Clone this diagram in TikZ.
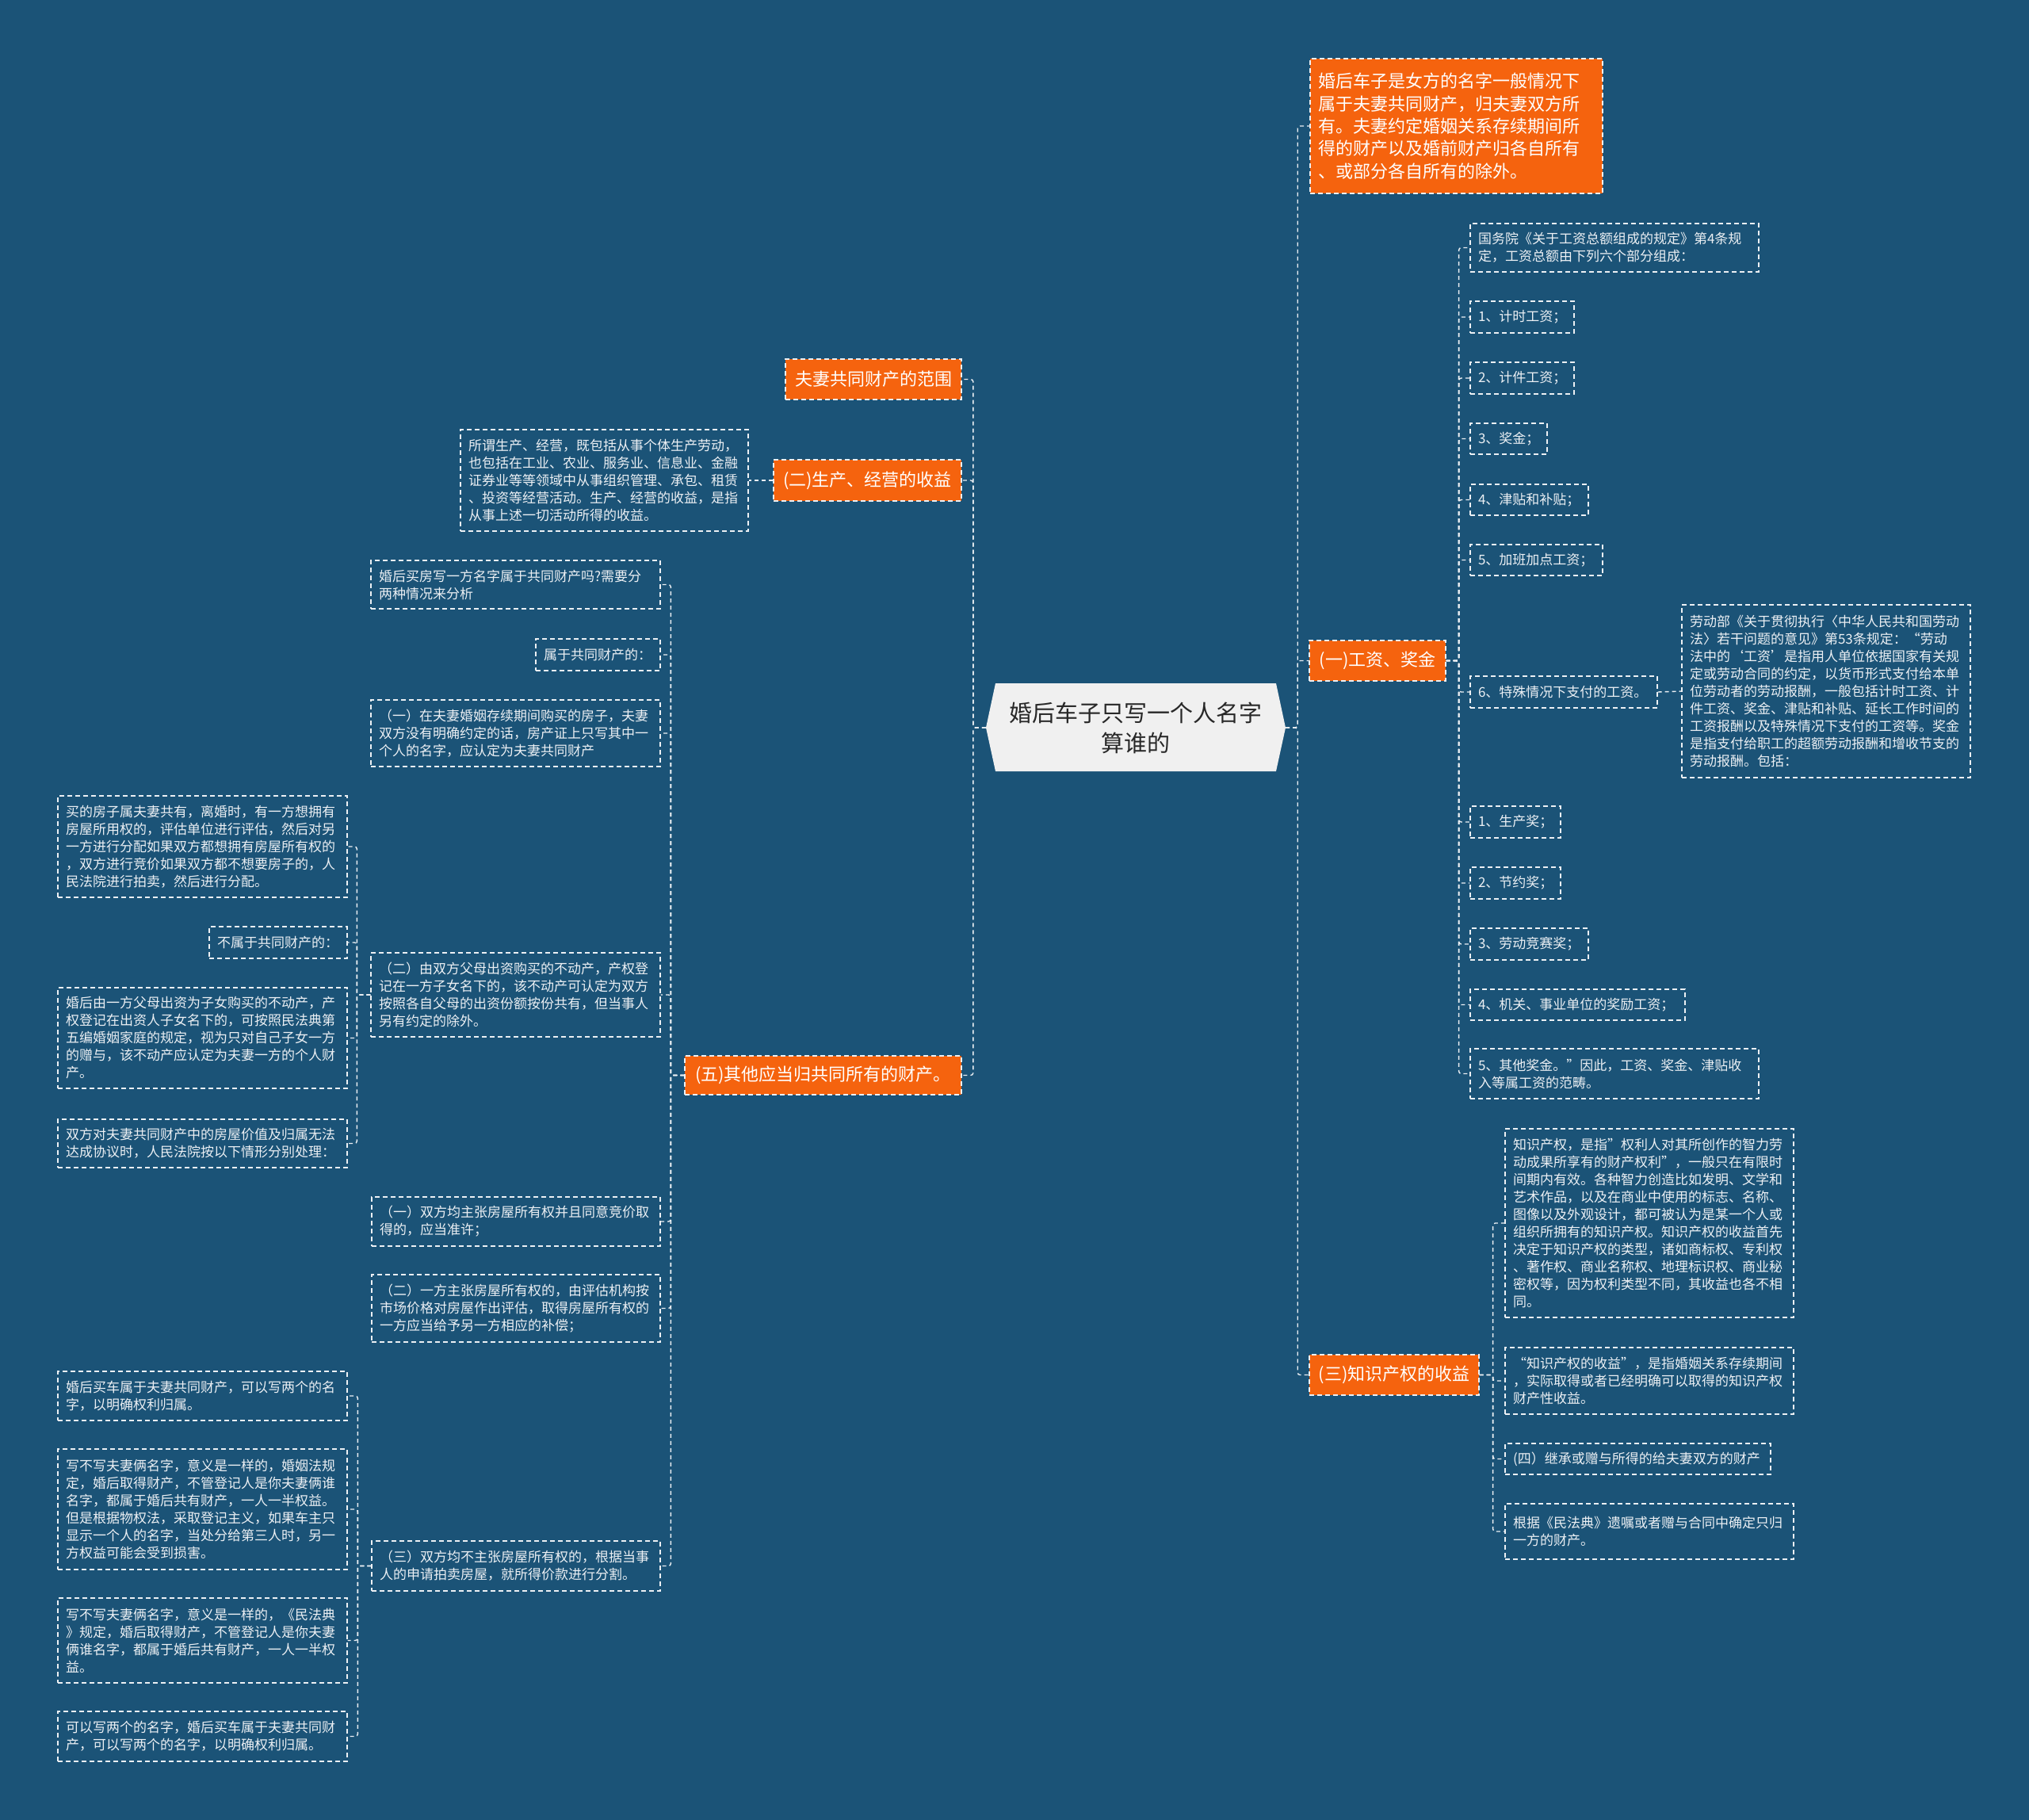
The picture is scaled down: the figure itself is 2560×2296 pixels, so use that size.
\documentclass[tikz,border=0pt]{standalone}
\usepackage{fontspec}
\setmainfont{Noto Sans CJK SC}
\definecolor{bgC}{RGB}{27,83,119}
\definecolor{orC}{RGB}{245,99,14}
\definecolor{lnC}{RGB}{236,240,244}
\definecolor{ctrC}{RGB}{240,240,240}
\definecolor{ctrT}{RGB}{40,40,40}
\newcommand\mkbox[7]{%
  \pgfmathsetmacro\bxw{#5-#3}%
  \pgfmathsetmacro\bxh{#6-#4}%
  \pgfmathsetmacro\bxt{#5-#3-20}%
  \pgfmathsetmacro\bxx{(#3+#5)/2}%
  \pgfmathsetmacro\bxy{(#4+#6)/2}%
  \node[#2, minimum width=\bxw pt, minimum height=\bxh pt, text width=\bxt pt] (#1) at (\bxx,\bxy) {#7};%
}
\begin{document}
\begin{tikzpicture}[x=1pt,y=-1pt,
  leaf/.style={draw=lnC, line width=1.3pt, dash pattern=on 6pt off 4pt, text=lnC,
    font=\fontsize{17}{22}\selectfont, align=left, inner xsep=0pt, inner ysep=0pt},
  orb/.style={fill=orC, draw=lnC, line width=1.3pt, dash pattern=on 6pt off 4pt, text=white,
    font=\fontsize{22}{28.3}\selectfont, align=center, inner xsep=0pt, inner ysep=0pt},
  conn/.style={draw=lnC, line width=1.4pt, dash pattern=on 5pt off 4pt, rounded corners=3pt}
]
\fill[bgC] (0,0) rectangle (2560,2296);
\useasboundingbox (0,0) rectangle (2560,2296);

% centre
\fill[ctrC] (1244,918) -- (1256,862) -- (1610,862) -- (1622,918) -- (1610,973) -- (1256,973) -- cycle;
\node[font=\fontsize{29}{38}\selectfont, text=ctrT, align=center, minimum width=378pt, minimum height=111pt, inner sep=0pt] (center) at (1433,918) {婚后车子只写一个人名字\\算谁的};

% right level 1
\mkbox{R0}{orb,align=left}{1653}{74}{2022}{244}{婚后车子是女方的名字一般情况下\\属于夫妻共同财产，归夫妻双方所\\有。夫妻约定婚姻关系存续期间所\\得的财产以及婚前财产归各自所有\\、或部分各自所有的除外。}
\mkbox{R1}{orb}{1652}{808}{1824}{859}{(一)工资、奖金}
\mkbox{R2}{orb}{1652}{1709}{1866}{1760}{(三)知识产权的收益}

% children of R1
\mkbox{A0}{leaf}{1855}{282}{2219}{343}{国务院《关于工资总额组成的规定》第4条规\\定，工资总额由下列六个部分组成：}
\mkbox{A1}{leaf}{1855}{380}{1986}{420}{1、计时工资；}
\mkbox{A2}{leaf}{1855}{457}{1986}{497}{2、计件工资；}
\mkbox{A3}{leaf}{1855}{534}{1952}{573}{3、奖金；}
\mkbox{A4}{leaf}{1855}{611}{2004}{650}{4、津贴和补贴；}
\mkbox{A5}{leaf}{1855}{687}{2022}{726}{5、加班加点工资；}
\mkbox{A6}{leaf}{1855}{853}{2091}{893}{6、特殊情况下支付的工资。}
\mkbox{A6a}{leaf}{2122}{763}{2486}{981}{劳动部《关于贯彻执行〈中华人民共和国劳动\\法〉若干问题的意见》第53条规定：“劳动\\法中的‘工资’是指用人单位依据国家有关规\\定或劳动合同的约定，以货币形式支付给本单\\位劳动者的劳动报酬，一般包括计时工资、计\\件工资、奖金、津贴和补贴、延长工作时间的\\工资报酬以及特殊情况下支付的工资等。奖金\\是指支付给职工的超额劳动报酬和增收节支的\\劳动报酬。包括：}
\mkbox{A7}{leaf}{1855}{1017}{1969}{1057}{1、生产奖；}
\mkbox{A8}{leaf}{1855}{1094}{1969}{1134}{2、节约奖；}
\mkbox{A9}{leaf}{1855}{1171}{2004}{1211}{3、劳动竞赛奖；}
\mkbox{A10}{leaf}{1855}{1248}{2126}{1287}{4、机关、事业单位的奖励工资；}
\mkbox{A11}{leaf}{1855}{1323}{2219}{1386}{5、其他奖金。”因此，工资、奖金、津贴收\\入等属工资的范畴。}

% children of R2
\mkbox{B0}{leaf}{1899}{1424}{2263}{1662}{知识产权，是指”权利人对其所创作的智力劳\\动成果所享有的财产权利”，一般只在有限时\\间期内有效。各种智力创造比如发明、文学和\\艺术作品，以及在商业中使用的标志、名称、\\图像以及外观设计，都可被认为是某一个人或\\组织所拥有的知识产权。知识产权的收益首先\\决定于知识产权的类型，诸如商标权、专利权\\、著作权、商业名称权、地理标识权、商业秘\\密权等，因为权利类型不同，其收益也各不相\\同。}
\mkbox{B1}{leaf}{1899}{1700}{2263}{1784}{“知识产权的收益”，是指婚姻关系存续期间\\，实际取得或者已经明确可以取得的知识产权\\财产性收益。}
\mkbox{B2}{leaf}{1899}{1821}{2234}{1860}{(四）继承或赠与所得的给夫妻双方的财产}
\mkbox{B3}{leaf}{1899}{1897}{2263}{1967}{根据《民法典》遗嘱或者赠与合同中确定只归\\一方的财产。}

% left level 1
\mkbox{L1}{orb}{991}{453}{1213}{504}{夫妻共同财产的范围}
\mkbox{L2}{orb}{976}{580}{1213}{632}{(二)生产、经营的收益}
\mkbox{L3}{orb}{864}{1332}{1213}{1381}{(五)其他应当归共同所有的财产。}
\mkbox{L2a}{leaf}{581}{542}{944}{670}{所谓生产、经营，既包括从事个体生产劳动，\\也包括在工业、农业、服务业、信息业、金融\\证券业等等领域中从事组织管理、承包、租赁\\、投资等经营活动。生产、经营的收益，是指\\从事上述一切活动所得的收益。}

% children of L3
\mkbox{M0}{leaf}{468}{707}{833}{768}{婚后买房写一方名字属于共同财产吗?需要分\\两种情况来分析}
\mkbox{M1}{leaf}{676}{806}{833}{846}{属于共同财产的：}
\mkbox{M2}{leaf}{468}{883}{833}{967}{（一）在夫妻婚姻存续期间购买的房子，夫妻\\双方没有明确约定的话，房产证上只写其中一\\个人的名字，应认定为夫妻共同财产}
\mkbox{M3}{leaf}{468}{1202}{833}{1308}{（二）由双方父母出资购买的不动产，产权登\\记在一方子女名下的，该不动产可认定为双方\\按照各自父母的出资份额按份共有，但当事人\\另有约定的除外。}
\mkbox{M4}{leaf}{469}{1510}{833}{1572}{（一）双方均主张房屋所有权并且同意竞价取\\得的，应当准许；}
\mkbox{M5}{leaf}{469}{1608}{833}{1693}{（二）一方主张房屋所有权的，由评估机构按\\市场价格对房屋作出评估，取得房屋所有权的\\一方应当给予另一方相应的补偿；}
\mkbox{M6}{leaf}{469}{1944}{833}{2007}{（三）双方均不主张房屋所有权的，根据当事\\人的申请拍卖房屋，就所得价款进行分割。}

% children of M3
\mkbox{N0}{leaf}{73}{1004}{438}{1132}{买的房子属夫妻共有，离婚时，有一方想拥有\\房屋所用权的，评估单位进行评估，然后对另\\一方进行分配如果双方都想拥有房屋所有权的\\，双方进行竞价如果双方都不想要房子的，人\\民法院进行拍卖，然后进行分配。}
\mkbox{N1}{leaf}{264}{1169}{438}{1209}{不属于共同财产的：}
\mkbox{N2}{leaf}{73}{1246}{438}{1373}{婚后由一方父母出资为子女购买的不动产，产\\权登记在出资人子女名下的，可按照民法典第\\五编婚姻家庭的规定，视为只对自己子女一方\\的赠与，该不动产应认定为夫妻一方的个人财\\产。}
\mkbox{N3}{leaf}{73}{1412}{438}{1473}{双方对夫妻共同财产中的房屋价值及归属无法\\达成协议时，人民法院按以下情形分别处理：}

% children of M6
\mkbox{P0}{leaf}{73}{1730}{438}{1792}{婚后买车属于夫妻共同财产，可以写两个的名\\字，以明确权利归属。}
\mkbox{P1}{leaf}{73}{1828}{438}{1980}{写不写夫妻俩名字，意义是一样的，婚姻法规\\定，婚后取得财产，不管登记人是你夫妻俩谁\\名字，都属于婚后共有财产，一人一半权益。\\但是根据物权法，采取登记主义，如果车主只\\显示一个人的名字，当处分给第三人时，另一\\方权益可能会受到损害。}
\mkbox{P2}{leaf}{73}{2016}{438}{2123}{写不写夫妻俩名字，意义是一样的，《民法典\\》规定，婚后取得财产，不管登记人是你夫妻\\俩谁名字，都属于婚后共有财产，一人一半权\\益。}
\mkbox{P3}{leaf}{73}{2159}{438}{2222}{可以写两个的名字，婚后买车属于夫妻共同财\\产，可以写两个的名字，以明确权利归属。}

% connectors
\foreach \c in {R0,R1,R2} \draw[conn] (center.east) -- ++(15,0) |- (\c.west);
\foreach \c in {L1,L2,L3} \draw[conn] (center.west) -- ++(-16,0) |- (\c.east);
\foreach \c in {A0,A1,A2,A3,A4,A5,A6,A7,A8,A9,A10,A11} \draw[conn] (R1.east) -- ++(16,0) |- (\c.west);
\draw[conn] (A6.east) -- (A6a.west);
\foreach \c in {B0,B1,B2,B3} \draw[conn] (R2.east) -- ++(17,0) |- (\c.west);
\draw[conn] (L2.west) -- (L2a.east);
\foreach \c in {M0,M1,M2,M3,M4,M5,M6} \draw[conn] (L3.west) -- ++(-17,0) |- (\c.east);
\foreach \c in {N0,N1,N2,N3} \draw[conn] (M3.west) -- ++(-17,0) |- (\c.east);
\foreach \c in {P0,P1,P2,P3} \draw[conn] (M6.west) -- ++(-17,0) |- (\c.east);
\end{tikzpicture}
\end{document}
